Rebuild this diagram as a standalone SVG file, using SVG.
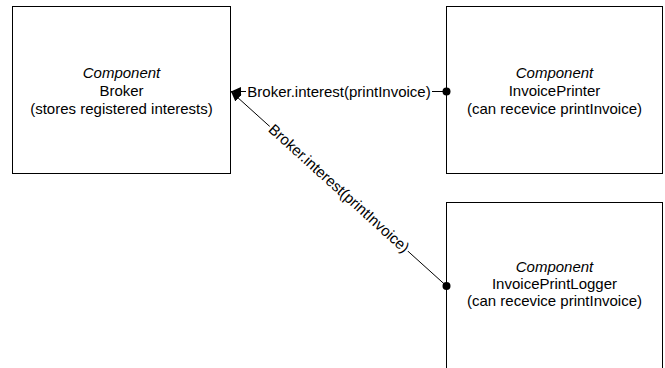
<svg xmlns="http://www.w3.org/2000/svg" width="665" height="368" viewBox="0 0 665 368">
  <style>
    .box { fill: #ffffff; stroke: #000000; stroke-width: 1; }
    .txt { font-family: "Liberation Sans", Arial, sans-serif; font-size: 15px; fill: #000000; text-anchor: middle; }
    .stereo { font-style: italic; }
    .wire { stroke: #000000; stroke-width: 1; fill: none; }
    .port { fill: #000000; }
    .lblbg { fill: #ffffff; }
  </style>
  <defs>
    <marker id="arrow" viewBox="0 0 10 10" refX="10" refY="5" markerWidth="10" markerHeight="10" markerUnits="userSpaceOnUse" orient="auto">
      <path d="M0,0.5 L10,5 L0,9.5 Z" fill="#000000"/>
    </marker>
  </defs>

  <g id="broker">
    <rect class="box" x="12.5" y="6.5" width="218" height="167"/>
    <text class="txt" x="121.5" y="78"><tspan class="stereo">Component</tspan></text>
    <text class="txt" x="121.5" y="96">Broker</text>
    <text class="txt" x="121.5" y="114">(stores registered interests)</text>
  </g>

  <g id="invoice-printer">
    <rect class="box" x="446.5" y="6.5" width="216" height="167"/>
    <text class="txt" x="554.5" y="78"><tspan class="stereo">Component</tspan></text>
    <text class="txt" x="554.5" y="96">InvoicePrinter</text>
    <text class="txt" x="554.5" y="114">(can recevice printInvoice)</text>
  </g>

  <g id="invoice-print-logger">
    <rect class="box" x="446.5" y="202.5" width="216" height="180"/>
    <text class="txt" x="554.5" y="272"><tspan class="stereo">Component</tspan></text>
    <text class="txt" x="554.5" y="289">InvoicePrintLogger</text>
    <text class="txt" x="554.5" y="306">(can recevice printInvoice)</text>
  </g>

  <g id="connectors">
    <!-- InvoicePrinter registers with Broker -->
    <line class="wire" x1="446.5" y1="91.5" x2="231" y2="91.5" marker-end="url(#arrow)"/>
    <circle class="port" cx="446.5" cy="91.5" r="4"/>
    <rect class="lblbg" x="246" y="83" width="186" height="17"/>
    <text class="txt" x="339" y="97">Broker.interest(printInvoice)</text>

    <!-- InvoicePrintLogger registers with Broker -->
    <line class="wire" x1="446.5" y1="286" x2="231" y2="91.5" marker-end="url(#arrow)"/>
    <circle class="port" cx="446.5" cy="286" r="4"/>
    <g transform="translate(339 188.5) rotate(42.1)">
      <rect class="lblbg" x="-93" y="-8.5" width="186" height="17"/>
      <text class="txt" x="0" y="5">Broker.interest(printInvoice)</text>
    </g>
  </g>
</svg>
